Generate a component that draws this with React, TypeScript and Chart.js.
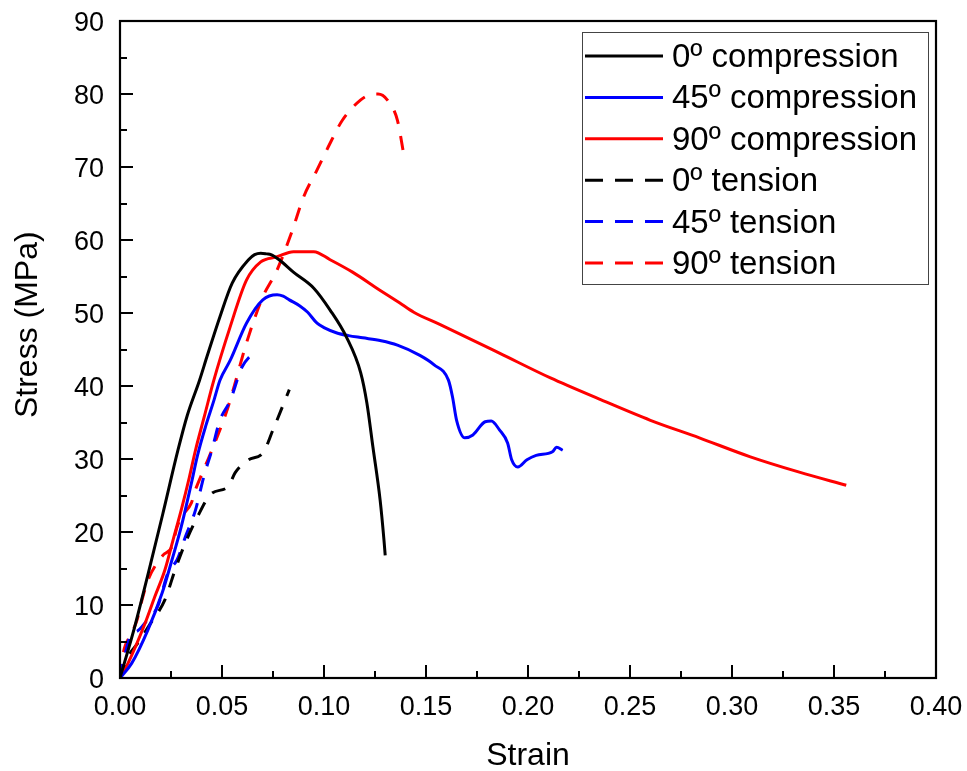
import React, { useEffect, useRef } from "react";
import { Chart, registerables } from "chart.js";

Chart.register(...registerables);

// ---- data (strain, stress MPa) ----
const comp0: [number, number][] = [
  [0, 0], [0.007, 6.8], [0.014, 14.5], [0.021, 22.5], [0.0284, 31.2], [0.033, 36],
  [0.039, 40.8], [0.0426, 44], [0.049, 49.5], [0.055, 54.1], [0.063, 57.3], [0.066, 58],
  [0.069, 58.2], [0.072, 58.1], [0.074, 58.0], [0.078, 57.3], [0.085, 55.6], [0.095, 53.4],
  [0.103, 50.4], [0.111, 46.7], [0.118, 41.8], [0.121, 37.7], [0.124, 31.6], [0.1275, 24.4],
  [0.1294, 18.9], [0.13, 16.8],
];
const comp45: [number, number][] = [
  [0, 0], [0.0057, 2], [0.0137, 6.6], [0.0206, 11.6], [0.0255, 16.2], [0.03, 20.7],
  [0.035, 26.7], [0.038, 30.5], [0.042, 34.5], [0.046, 38], [0.049, 40.8], [0.054, 43.5],
  [0.062, 48.6], [0.07, 51.8], [0.077, 52.5], [0.08, 52.3], [0.083, 51.8], [0.088, 51.0],
  [0.092, 50.1], [0.0966, 48.6], [0.1, 48.0], [0.106, 47.3], [0.112, 46.9], [0.119, 46.6],
  [0.128, 46.2], [0.136, 45.6], [0.147, 44.2], [0.154, 42.9], [0.161, 40.8], [0.163, 38.5],
  [0.165, 35.3], [0.169, 32.9], [0.173, 33.3], [0.179, 35.1], [0.182, 35.2], [0.186, 34],
  [0.19, 32.2], [0.192, 29.9], [0.195, 28.9], [0.1995, 29.9], [0.204, 30.5], [0.212, 31],
  [0.214, 31.6], [0.217, 31.2],
];
const comp90: [number, number][] = [
  [0, 0], [0.0039, 2], [0.0123, 7.5], [0.017, 11.1], [0.022, 14.8], [0.026, 18.9],
  [0.03, 23], [0.034, 27.5], [0.037, 31.2], [0.0415, 36], [0.0457, 40.5], [0.054, 48.1],
  [0.062, 54.5], [0.069, 57], [0.077, 57.7], [0.085, 58.4], [0.095, 58.4], [0.103, 57.3],
  [0.114, 55.6], [0.127, 53.2], [0.137, 51.4], [0.144, 50.1], [0.157, 48.4],
  [0.186, 44.5], [0.211, 41.1], [0.235, 38.2], [0.26, 35.3], [0.284, 32.9], [0.309, 30.3],
  [0.333, 28.2], [0.356, 26.4],
];
const tens0: [number, number][] = [
  [0, 0], [0.0039, 2.9], [0.0088, 4.8], [0.015, 7.5], [0.022, 10.7], [0.027, 14.8],
  [0.032, 18.5], [0.038, 22.1], [0.045, 25.3], [0.053, 26.2], [0.0564, 28.1], [0.063, 29.9],
  [0.07, 30.8], [0.075, 34], [0.083, 39.5],
];
const tens45: [number, number][] = [
  [0, 0], [0.0016, 2.2], [0.0057, 6.1], [0.0083, 6.4], [0.013, 7.8], [0.0186, 9.9],
  [0.0235, 14.4], [0.028, 16.2], [0.032, 19.3], [0.037, 23], [0.041, 27.5], [0.045, 31.2],
  [0.049, 35.3], [0.054, 38], [0.0598, 42.6], [0.065, 44.5],
];
const tens90: [number, number][] = [
  [0, 0], [0.0016, 3.4], [0.0057, 6.1], [0.0083, 7.9], [0.0108, 10.7], [0.0137, 13.4],
  [0.021, 16.8], [0.0255, 18], [0.028, 20.7], [0.03, 22], [0.035, 24], [0.037, 25.8],
  [0.041, 28.5], [0.045, 31.2], [0.052, 36.3], [0.055, 39], [0.062, 45.9], [0.07, 52.2],
  [0.077, 55.9], [0.0842, 61.1], [0.09, 65.9], [0.0966, 69.6], [0.102, 72.7], [0.109, 76.4],
  [0.118, 79.2], [0.1225, 79.9], [0.1265, 80], [0.131, 79.2], [0.136, 76.4], [0.139, 71.9],
];

const seriesLabels = [
  "0º compression", "45º compression", "90º compression",
  "0º tension", "45º tension", "90º tension",
];
const seriesColors = ["#000000", "#0000ff", "#ff0000", "#000000", "#0000ff", "#ff0000"];
const seriesData = [comp0, comp45, comp90, tens0, tens45, tens90];
const seriesDashed = [false, false, false, true, true, true];

const xMin = 0, xMax = 0.4, xStep = 0.05;
const yMin = 0, yMax = 90, yStep = 10;
const xTitle = "Strain";
const yTitle = "Stress (MPa)";

const FONT = "'Liberation Sans', Arial, sans-serif";

const framePlugin = {
  id: "frameTicks",
  afterDraw(chart: any) {
    const { ctx, chartArea: a, scales } = chart;
    const xs = scales.x, ys = scales.y;
    ctx.save();
    ctx.strokeStyle = "#000";
    ctx.lineWidth = 2.2;
    ctx.strokeRect(a.left, a.top, a.right - a.left, a.bottom - a.top);
    ctx.lineWidth = 2;
    const major = 13, minor = 7;
    const xv = xs.ticks.map((t: any) => t.value);
    const yv = ys.ticks.map((t: any) => t.value);
    ctx.beginPath();
    xv.forEach((v: number, i: number) => {
      const px = Math.round(xs.getPixelForValue(v));
      ctx.moveTo(px, a.bottom); ctx.lineTo(px, a.bottom - major);
      if (i < xv.length - 1) {
        const m = Math.round(xs.getPixelForValue((v + xv[i + 1]) / 2));
        ctx.moveTo(m, a.bottom); ctx.lineTo(m, a.bottom - minor);
      }
    });
    yv.forEach((v: number, i: number) => {
      const py = Math.round(ys.getPixelForValue(v));
      ctx.moveTo(a.left, py); ctx.lineTo(a.left + major, py);
      if (i < yv.length - 1) {
        const m = Math.round(ys.getPixelForValue((v + yv[i + 1]) / 2));
        ctx.moveTo(a.left, m); ctx.lineTo(a.left + minor, m);
      }
    });
    ctx.stroke();

    // tick labels
    ctx.fillStyle = "#000";
    ctx.font = `27px ${FONT}`;
    ctx.textBaseline = "alphabetic";
    ctx.textAlign = "center";
    xv.forEach((v: number) => {
      ctx.fillText(v.toFixed(2), xs.getPixelForValue(v), a.bottom + 37);
    });
    ctx.textAlign = "right";
    yv.forEach((v: number) => {
      ctx.fillText(String(Math.round(v)), a.left - 16, ys.getPixelForValue(v) + 9.5);
    });

    // axis titles
    ctx.font = `32px ${FONT}`;
    ctx.textAlign = "center";
    ctx.fillText(xTitle, (a.left + a.right) / 2, a.bottom + 87);
    ctx.save();
    ctx.translate(a.left - 83, ys.getPixelForValue(48.4));
    ctx.rotate(-Math.PI / 2);
    ctx.fillText(yTitle, 0, 0);
    ctx.restore();

    // legend box
    const boxRight = a.right - 8;
    const boxLeft = boxRight - 346;
    const boxTop = a.top + 11;
    const rowH = 41.4;
    const boxH = 252;
    ctx.lineWidth = 1;
    ctx.strokeStyle = "#444";
    ctx.strokeRect(boxLeft + 0.5, boxTop + 0.5, boxRight - boxLeft, boxH);
    ctx.font = `33px ${FONT}`;
    ctx.textAlign = "left";
    chart.data.datasets.forEach((ds: any, i: number) => {
      const base = boxTop + 35 + i * rowH;
      const cy = base - 11;
      ctx.beginPath();
      ctx.strokeStyle = ds.borderColor;
      ctx.lineWidth = 3;
      ctx.setLineDash(seriesDashed[i] ? [18, 12] : []);
      ctx.moveTo(boxLeft + 3, cy);
      ctx.lineTo(boxLeft + 81, cy);
      ctx.stroke();
      ctx.setLineDash([]);
      ctx.fillStyle = "#000";
      ctx.fillText(ds.label, boxLeft + 90, base);
    });
    ctx.restore();
  },
};

export default function App() {
  const ref = useRef<HTMLCanvasElement>(null);
  useEffect(() => {
    document.body.style.margin = "0";
    const chart = new Chart(ref.current!, {
      type: "line",
      data: {
        datasets: seriesData.map((d, i) => ({
          label: seriesLabels[i],
          data: d.map(([x, y]) => ({ x, y })),
          borderColor: seriesColors[i],
          backgroundColor: seriesColors[i],
          borderWidth: 3,
          borderDash: seriesDashed[i] ? [14, 12] : [],
          pointRadius: 0,
          fill: false,
          cubicInterpolationMode: "monotone",
        })),
      },
      options: {
        animation: false,
        responsive: false,
        events: [],
        layout: { padding: { top: 21, right: 31, left: 0, bottom: 0 } },
        plugins: { legend: { display: false }, tooltip: { enabled: false }, title: { display: false } },
        scales: {
          x: {
            type: "linear",
            min: xMin,
            max: xMax,
            grid: { display: false },
            border: { display: false },
            ticks: { stepSize: xStep, display: false },
            title: { display: false },
            afterFit: (s: any) => { s.height = 93; },
          },
          y: {
            type: "linear",
            min: yMin,
            max: yMax,
            grid: { display: false },
            border: { display: false },
            ticks: { stepSize: yStep, display: false },
            title: { display: false },
            afterFit: (s: any) => { s.width = 120; },
          },
        },
      },
      plugins: [framePlugin],
    });
    return () => chart.destroy();
  }, []);
  return <canvas ref={ref} width={967} height={771} style={{ display: "block" }} />;
}
